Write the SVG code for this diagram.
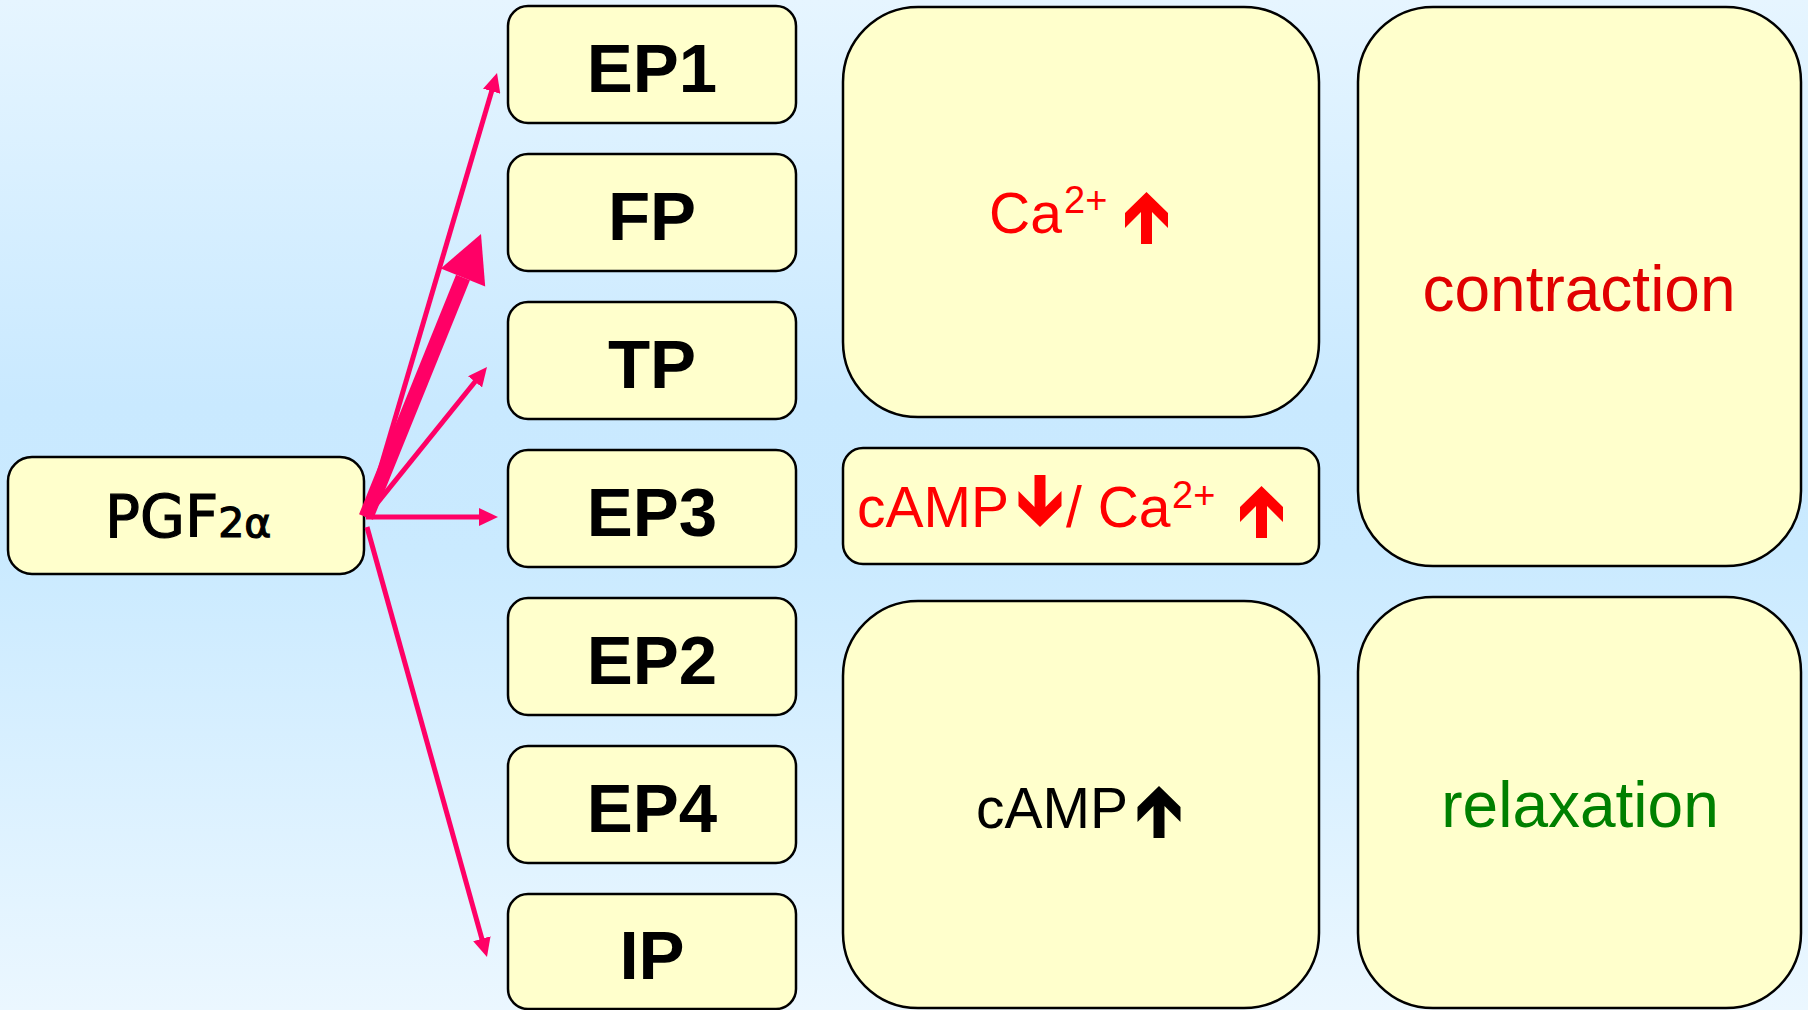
<svg xmlns="http://www.w3.org/2000/svg" width="1808" height="1010" viewBox="0 0 1808 1010">
<style>
.box{fill:#FFFFCC;stroke:#000;stroke-width:2.5}
.lbl{font-family:"Liberation Sans",Arial,sans-serif;font-weight:bold;font-size:69px;fill:#000;text-anchor:middle}
.t{font-family:"Liberation Sans",Arial,sans-serif;font-size:57px}
.sup{font-family:"Liberation Sans",Arial,sans-serif;font-size:38px}
.big{font-family:"Liberation Sans",Arial,sans-serif;font-size:64px;text-anchor:middle}
.thin{stroke:#FF0066;stroke-width:5;fill:none;marker-end:url(#ah)}
</style>
<defs>
<linearGradient id="bg" x1="0" y1="0" x2="0" y2="1">
<stop offset="0" stop-color="#E6F5FF"/>
<stop offset="0.4" stop-color="#C9E9FF"/>
<stop offset="0.55" stop-color="#CAEAFF"/>
<stop offset="1" stop-color="#EBF7FF"/>
</linearGradient>
<marker id="ah" viewBox="0 0 19 18" refX="9" refY="9" markerWidth="19" markerHeight="18" markerUnits="userSpaceOnUse" orient="auto">
<path d="M0,0 L19,9 L0,18 Z" fill="#FF0066"/>
</marker>
<path id="blk" d="M0,0 L21.5,21 L21.5,36 L5.5,20 L5.5,52 L-5.5,52 L-5.5,20 L-21.5,36 L-21.5,21 Z"/>
</defs>
<rect x="0" y="0" width="1808" height="1010" fill="url(#bg)"/>

<g id="pgf">
<rect class="box" x="8" y="457" width="356" height="117" rx="24"/>
<text x="105" y="537" font-family="'DejaVu Sans',sans-serif" font-size="58" fill="#000" stroke="#000" stroke-width="1.2">PGF<tspan font-size="41">2α</tspan></text>
</g>

<g id="ep1"><rect class="box" x="508" y="6" width="288" height="117" rx="20"/><text class="lbl" x="652" y="92">EP1</text></g>
<g id="fp"><rect class="box" x="508" y="154" width="288" height="117" rx="20"/><text class="lbl" x="652" y="240">FP</text></g>
<g id="tp"><rect class="box" x="508" y="302" width="288" height="117" rx="20"/><text class="lbl" x="652" y="388">TP</text></g>
<g id="ep3"><rect class="box" x="508" y="450" width="288" height="117" rx="20"/><text class="lbl" x="652" y="536">EP3</text></g>
<g id="ep2"><rect class="box" x="508" y="598" width="288" height="117" rx="20"/><text class="lbl" x="652" y="684">EP2</text></g>
<g id="ep4"><rect class="box" x="508" y="746" width="288" height="117" rx="20"/><text class="lbl" x="652" y="832">EP4</text></g>
<g id="ip"><rect class="box" x="508" y="894" width="288" height="115" rx="20"/><text class="lbl" x="652" y="979">IP</text></g>

<g id="ca">
<rect class="box" x="843" y="7" width="476" height="410" rx="75"/>
<text class="t" x="989" y="233" fill="#FF0000">Ca</text>
<text class="sup" x="1064" y="213" fill="#FF0000">2+</text>
<use href="#blk" transform="translate(1146.5,192)" fill="#FF0000"/>
</g>

<g id="mixed">
<rect class="box" x="843" y="448" width="476" height="116" rx="20"/>
<text class="t" x="857" y="527" fill="#FF0000">cAMP</text>
<use href="#blk" transform="translate(1040,527) rotate(180)" fill="#FF0000"/>
<text class="t" x="1066" y="527" fill="#FF0000">/ Ca</text>
<text class="sup" x="1172" y="508" fill="#FF0000">2+</text>
<use href="#blk" transform="translate(1261.5,486)" fill="#FF0000"/>
</g>

<g id="camp">
<rect class="box" x="843" y="601" width="476" height="407" rx="75"/>
<text class="t" x="976" y="828" fill="#000">cAMP</text>
<use href="#blk" transform="translate(1159,786)" fill="#000"/>
</g>

<g id="contraction">
<rect class="box" x="1358" y="7" width="443" height="559" rx="75"/>
<text class="big" x="1579" y="311" fill="#E00000">contraction</text>
</g>

<g id="relaxation">
<rect class="box" x="1358" y="597" width="443" height="411" rx="75"/>
<text class="big" x="1580" y="827" fill="#008000">relaxation</text>
</g>

<g id="connectors">
<line class="thin" x1="366" y1="517" x2="494.2" y2="82.6"/>
<line x1="366" y1="517" x2="463" y2="277.5" stroke="#FF0066" stroke-width="15"/>
<polygon points="481,234 440.8,268.4 485.2,286.6" fill="#FF0066"/>
<line class="thin" x1="366" y1="517" x2="480.7" y2="374.8"/>
<line class="thin" x1="366" y1="517" x2="488" y2="517"/>
<line class="thin" x1="367" y1="527" x2="484.3" y2="947.4"/>
</g>
</svg>
